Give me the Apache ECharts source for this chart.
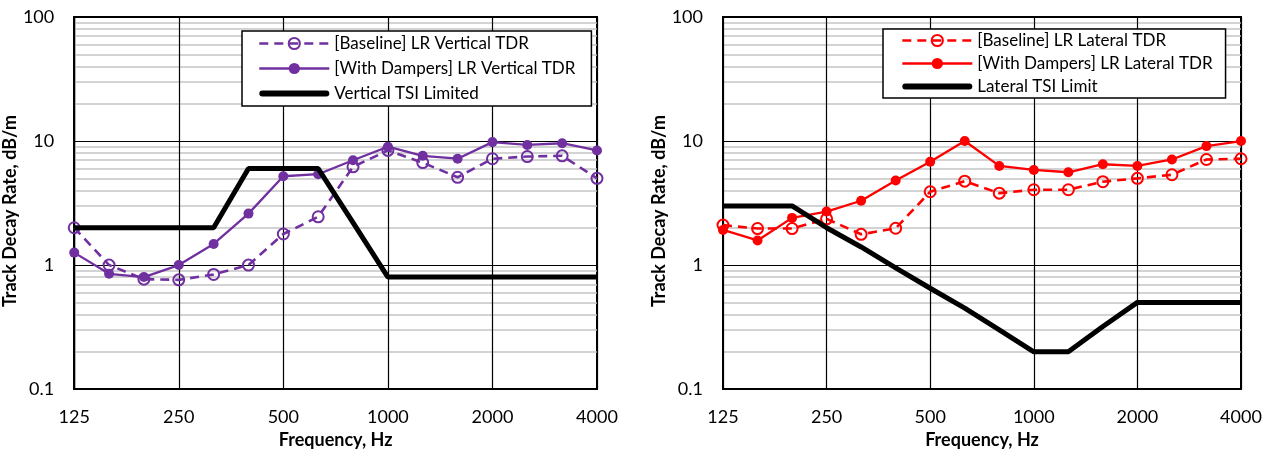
<!DOCTYPE html>
<html>
<head>
<meta charset="utf-8">
<script src="https://cdn.jsdelivr.net/npm/echarts@6/dist/echarts.min.js"></script>
<style>
  html, body { margin: 0; padding: 0; background: #fff; }
  #chart { width: 1271px; height: 454px; }
</style>
</head>
<body>
<div id="chart"></div>
<script>
// ---- Data ----
const freqs = ['125','160','200','250','315','400','500','630','800','1000','1250','1600','2000','2500','3150','4000'];

const vertBaseline = [2.0, 1.0, 0.77, 0.76, 0.84, 1.0, 1.78, 2.45, 6.2, 8.4, 6.7, 5.1, 7.2, 7.5, 7.6, 5.0];
const vertDampers  = [1.26, 0.85, 0.8, 1.0, 1.48, 2.6, 5.2, 5.4, 7.0, 9.0, 7.6, 7.2, 9.8, 9.3, 9.6, 8.4];
const vertLimit    = [2, 2, 2, 2, 2, 6, 6, 6, 2.2, 0.8, 0.8, 0.8, 0.8, 0.8, 0.8, 0.8];

const latBaseline  = [2.1, 1.97, 1.97, 2.36, 1.77, 1.98, 3.9, 4.75, 3.8, 4.05, 4.05, 4.7, 5.0, 5.35, 7.1, 7.2];
const latDampers   = [1.92, 1.58, 2.4, 2.7, 3.3, 4.8, 6.8, 10.0, 6.3, 5.85, 5.6, 6.5, 6.3, 7.1, 9.1, 10.0];
const latLimit     = [3, 3, 3, 2.0, 1.4, 0.95, 0.65, 0.45, 0.3, 0.2, 0.2, 0.32, 0.5, 0.5, 0.5, 0.5];

const minorGrid = [0.2,0.3,0.4,0.5,0.6,0.7,0.8,0.9, 2,3,4,5,6,7,8,9, 20,30,40,50,60,70,80,90];

const namesV = ['[Baseline] LR Vertical TDR', '[With Dampers] LR Vertical TDR', 'Vertical TSI Limited'];
const namesL = ['[Baseline] LR Lateral TDR', '[With Dampers] LR Lateral TDR', 'Lateral TSI Limit'];

// ---- Styles ----
const FONT = 'Lato';
const PURPLE = '#7030A0';
const RED = '#FF0000';
const BAR_ICON = 'path://M3,0 L67,0 A3,3 0 0 1 67,6 L3,6 A3,3 0 0 1 3,0 Z';

function xAxis(idx) {
  return {
    type: 'category', gridIndex: idx, data: freqs, boundaryGap: false, z: 2,
    axisLine: { lineStyle: { color: '#000', width: 2 } },
    axisTick: { show: false },
    axisLabel: { interval: 2, margin: 19, fontFamily: FONT, fontSize: 18, color: '#000' },
    splitLine: { show: true, interval: 2, lineStyle: { color: '#000', width: 1.2 } },
    name: 'Frequency, Hz', nameLocation: 'middle', nameGap: 37,
    nameTextStyle: { fontFamily: FONT, fontSize: 18, fontWeight: 'bold', color: '#000' }
  };
}
function yAxis(idx) {
  return {
    type: 'log', logBase: 10, gridIndex: idx, min: 0.1, max: 100, z: 2,
    axisLine: { show: true, lineStyle: { color: '#000', width: 2 } },
    axisTick: { show: false },
    axisLabel: { margin: 20, fontFamily: FONT, fontSize: 18, color: '#000',
      formatter: v => String(v) },
    splitLine: { show: true, lineStyle: { color: '#000', width: 1.2 } },
    name: 'Track Decay Rate, dB/m', nameLocation: 'middle', nameGap: idx === 0 ? 44 : 45,
    nameTextStyle: { fontFamily: FONT, fontSize: 18, fontWeight: 'bold', color: '#000',
      padding: [0, 16, 0, 0] }
  };
}
function minorSeries(idx) {
  return {
    type: 'line', xAxisIndex: idx, yAxisIndex: idx, data: [], z: 1, silent: true,
    markLine: {
      z: 1, silent: true, symbol: 'none', animation: false,
      label: { show: false },
      lineStyle: { color: '#c4c4c4', width: 1.5, type: 'solid' },
      data: minorGrid.map(v => ({ yAxis: v }))
    }
  };
}
function dataSeries(idx, names, color, base, damp, limit) {
  return [
    {
      name: names[0], type: 'line', xAxisIndex: idx, yAxisIndex: idx, data: base, z: 3,
      symbol: 'circle', symbolSize: 11,
      lineStyle: { color: color, width: 2.6, type: [9, 6] },
      itemStyle: { color: 'transparent', borderColor: color, borderWidth: 2 }
    },
    {
      name: names[1], type: 'line', xAxisIndex: idx, yAxisIndex: idx, data: damp, z: 4,
      symbol: 'circle', symbolSize: 10,
      lineStyle: { color: color, width: 2.3 },
      itemStyle: { color: color }
    },
    {
      name: names[2], type: 'line', xAxisIndex: idx, yAxisIndex: idx, data: limit, z: 5,
      symbol: 'none',
      lineStyle: { color: '#000', width: 5 },
      itemStyle: { color: '#000' }
    }
  ];
}
function legend(names, color, left, top, gap, pad) {
  return {
    data: [
      { name: names[0], lineStyle: { width: 2.6, color: color, type: [9, 6] } },
      { name: names[1], lineStyle: { width: 2.3, color: color } },
      { name: names[2], icon: BAR_ICON }
    ],
    orient: 'vertical', left: left, top: top,
    itemWidth: 70, itemHeight: 14, itemGap: gap, padding: pad,
    backgroundColor: '#fff', borderColor: '#000', borderWidth: 1.5,
    textStyle: { fontFamily: FONT, fontSize: 17, color: '#000', lineHeight: 19 },
    selectedMode: false, z: 10
  };
}

const chart = echarts.init(document.getElementById('chart'), null, { renderer: 'canvas' });
chart.setOption({
  animation: false,
  backgroundColor: '#fff',
  grid: [
    { left: 71, top: 17, width: 526, height: 374, show: true, borderColor: '#000', borderWidth: 2, backgroundColor: 'transparent' },
    { left: 723, top: 17, width: 518, height: 374, show: true, borderColor: '#000', borderWidth: 2, backgroundColor: 'transparent' }
  ],
  xAxis: [xAxis(0), xAxis(1)],
  yAxis: [yAxis(0), yAxis(1)],
  legend: [
    legend(namesV, PURPLE, 242, 31, 6, [3, 16, 3, 16]),
    legend(namesL, RED, 883, 29, 4, [2, 13, 2, 18])
  ],
  series: [
    minorSeries(0), minorSeries(1),
    ...dataSeries(0, namesV, PURPLE, vertBaseline, vertDampers, vertLimit),
    ...dataSeries(1, namesL, RED, latBaseline, latDampers, latLimit)
  ]
});
</script>
</body>
</html>
